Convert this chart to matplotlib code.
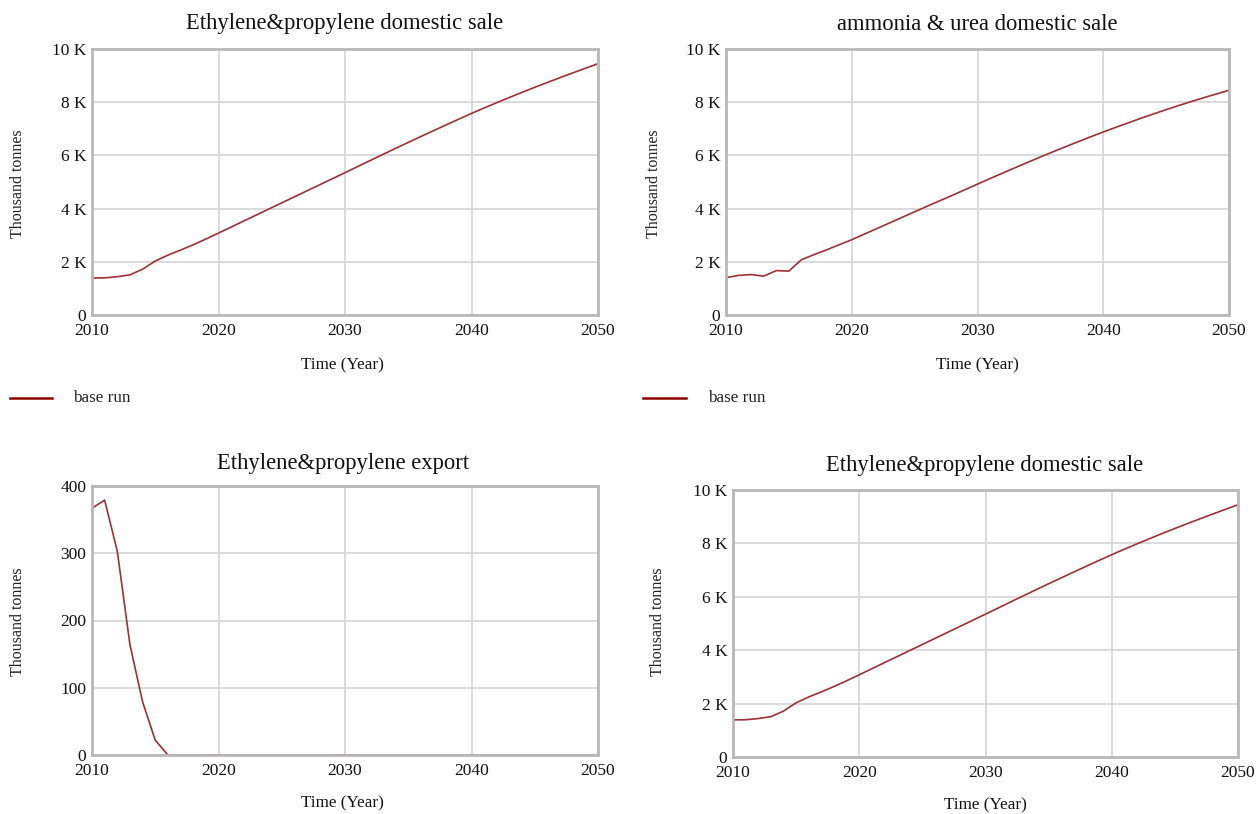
import matplotlib
matplotlib.use("Agg")
import matplotlib.pyplot as plt
from matplotlib.ticker import FuncFormatter

plt.rcParams['font.family'] = ['Liberation Serif', 'DejaVu Serif']

years = list(range(2010, 2051))

# Ethylene & propylene domestic sale (thousand tonnes)
ethylene_domestic = [
    1390, 1395, 1440, 1510, 1720, 2030, 2250, 2440, 2640, 2855,
    3080, 3307, 3534, 3761, 3988, 4215, 4442, 4669, 4896, 5123,
    5350, 5580, 5810, 6038, 6264, 6488, 6710, 6930, 7148, 7364,
    7578, 7783, 7983, 8179, 8371, 8559, 8743, 8923, 9100, 9275,
    9448,
]

# Ammonia & urea domestic sale (thousand tonnes)
ammonia_urea_domestic = [
    1400, 1490, 1520, 1460, 1670, 1650, 2080, 2270, 2450, 2640,
    2830, 3040, 3250, 3460, 3670, 3880, 4090, 4295, 4500, 4710,
    4920, 5130, 5335, 5540, 5740, 5940, 6135, 6325, 6515, 6700,
    6880, 7055, 7225, 7395, 7560, 7720, 7875, 8025, 8170, 8310,
    8450,
]

# Ethylene & propylene export (thousand tonnes)
ethylene_export = [367, 379, 303, 164, 79, 22] + [0] * 35

x_ticks = [2010, 2020, 2030, 2040, 2050]
k_ticks = [0, 2000, 4000, 6000, 8000, 10000]
export_ticks = [0, 100, 200, 300, 400]

W, H = 1257, 814
LINE = '#9e3036'
LEG_LINE = '#8b0000'
GRID = '#d4d4d4'
FRAME = '#b8b8b8'

fig = plt.figure(figsize=(W / 100, H / 100), dpi=100)
fig.patch.set_facecolor('white')


def rect(left, right, top, bottom):
    return [left / W, 1 - bottom / H, (right - left) / W, (bottom - top) / H]


def k_fmt(v, _):
    return '0' if v == 0 else f'{int(v / 1000)} K'


def panel(box, data, yticks, ymax, title, title_xy, ylab_xy, xlab_xy, kfmt=True):
    ax = fig.add_axes(rect(*box))
    ax.plot(years, data, color=LINE, lw=1.2, solid_joinstyle='round')
    ax.set_xlim(2010, 2050)
    ax.set_ylim(0, ymax)
    ax.set_xticks(x_ticks)
    ax.set_yticks(yticks)
    if kfmt:
        ax.yaxis.set_major_formatter(FuncFormatter(k_fmt))
    ax.grid(True, color=GRID, lw=1.2)
    ax.set_axisbelow(True)
    for s in ax.spines.values():
        s.set_color(FRAME)
        s.set_linewidth(2)
    ax.tick_params(length=0, labelsize=12.5, colors='#111111')
    ax.tick_params(axis='x', pad=6)
    ax.tick_params(axis='y', pad=4)
    fig.text(title_xy[0] / W, 1 - title_xy[1] / H, title, ha='center', va='center',
             fontsize=16.3, color='#111111')
    fig.text(ylab_xy[0] / W, 1 - ylab_xy[1] / H, 'Thousand tonnes', rotation=90,
             ha='center', va='center', fontsize=11.5, color='#222222')
    fig.text(xlab_xy[0] / W, 1 - xlab_xy[1] / H, 'Time (Year)', ha='center', va='center',
             fontsize=12.3, color='#111111')
    return ax


panel((92, 598, 49, 315), ethylene_domestic, k_ticks, 10000,
      'Ethylene&propylene domestic sale', (345, 24), (18, 184), (342, 365))
panel((726, 1229, 49, 315), ammonia_urea_domestic, k_ticks, 10000,
      'ammonia & urea domestic sale', (977, 24), (654, 184), (977, 365))
panel((92, 598, 486, 755), ethylene_export, export_ticks, 400,
      'Ethylene&propylene export', (343, 463), (18, 622), (342, 803), kfmt=False)
panel((733, 1238, 490, 757), ethylene_domestic, k_ticks, 10000,
      'Ethylene&propylene domestic sale', (985, 465), (658, 622), (985, 805))

# Legends under the top row
for x0, x1, tx in [(10, 52, 73), (643, 686, 708)]:
    fig.add_artist(plt.Line2D([x0 / W, x1 / W], [1 - 398 / H] * 2, color=LEG_LINE, lw=1.8))
    fig.text(tx / W, 1 - 398 / H, 'base run', ha='left', va='center', fontsize=12.3,
             color='#222222')

fig.savefig('out.png', dpi=100, facecolor='white')
